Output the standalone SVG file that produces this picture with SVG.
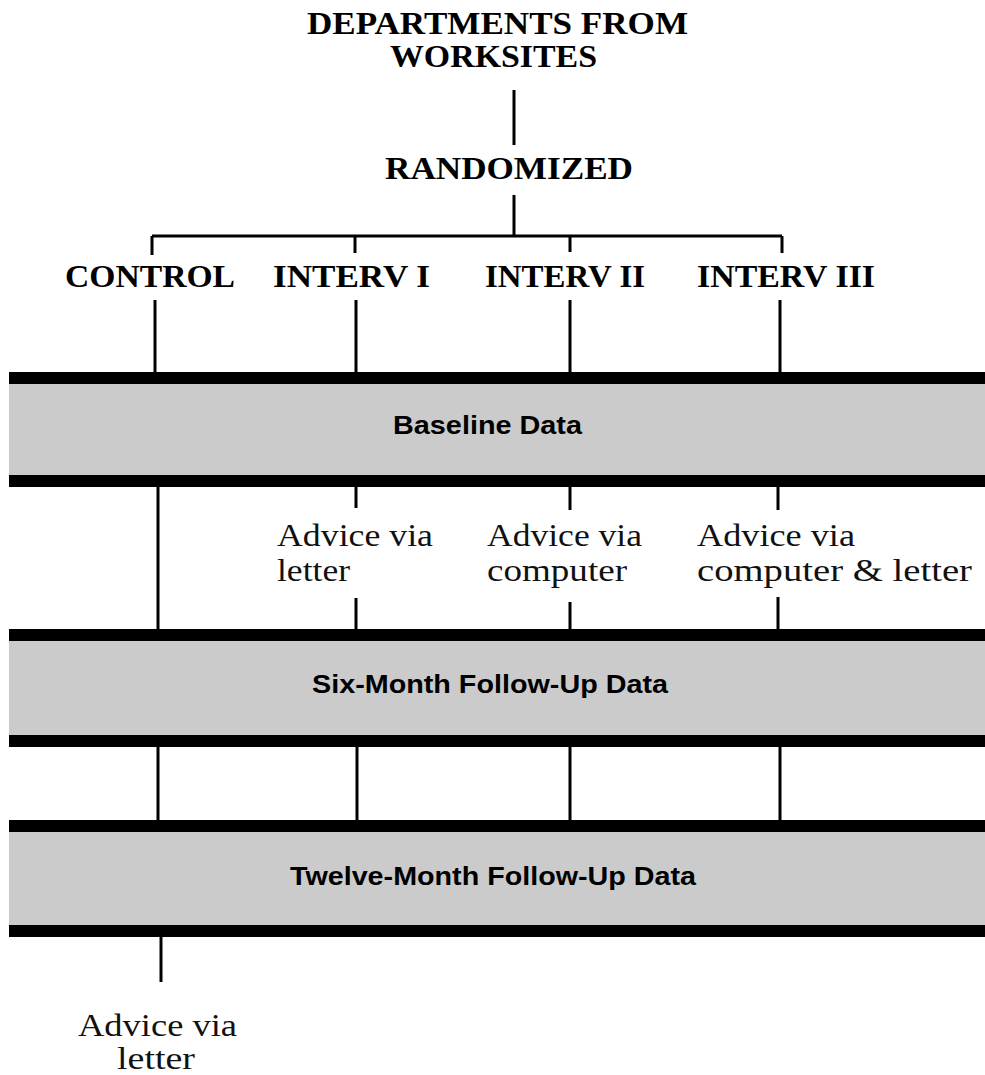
<svg xmlns="http://www.w3.org/2000/svg" width="985" height="1075" viewBox="0 0 985 1075">
<style>
.hd{font-family:"Liberation Serif","Times New Roman",serif;font-weight:bold;font-size:32px;fill:#000}
.bd{font-family:"Liberation Serif","Times New Roman",serif;font-size:32px;fill:#111}
.bl{font-family:"Liberation Sans",Arial,sans-serif;font-weight:bold;font-size:25px;fill:#000}
.bar{fill:#000}
.gray{fill:#cbcbcb}
.ln{stroke:#000;stroke-width:3;fill:none}
</style>
<rect width="985" height="1075" fill="#fff"/>
<g id="connectors">
<path class="ln" d="M514 90V145"/>
<path class="ln" d="M514 195V236"/>
<path class="ln" d="M152 236H782"/>
<path class="ln" d="M152 236V255M355 236V253M570 236V252M782 236V253"/>
<path class="ln" d="M155 300V372M356 300V372M570 300V372M780 300V372"/>
<path class="ln" d="M158 487V629"/>
<path class="ln" d="M356 487V508M570 487V510M778 487V510"/>
<path class="ln" d="M356 598V629M570 602V629M778 597V629"/>
<path class="ln" d="M158 747V820M357 747V820M570 747V820M780 747V820"/>
<path class="ln" d="M161 937V982"/>
</g>
<g id="title"><text class="hd" x="307" y="34" textLength="381" lengthAdjust="spacingAndGlyphs">DEPARTMENTS FROM</text><text class="hd" x="390" y="67" textLength="207" lengthAdjust="spacingAndGlyphs">WORKSITES</text></g>
<g id="randomized"><text class="hd" x="385" y="179" textLength="248" lengthAdjust="spacingAndGlyphs">RANDOMIZED</text></g>
<g id="control"><text class="hd" x="65" y="287" textLength="170" lengthAdjust="spacingAndGlyphs">CONTROL</text></g>
<g id="interv1"><text class="hd" x="273" y="287" textLength="157" lengthAdjust="spacingAndGlyphs">INTERV I</text></g>
<g id="interv2"><text class="hd" x="485" y="287" textLength="160" lengthAdjust="spacingAndGlyphs">INTERV II</text></g>
<g id="interv3"><text class="hd" x="697" y="287" textLength="178" lengthAdjust="spacingAndGlyphs">INTERV III</text></g>
<g id="baseline">
<rect class="gray" x="9" y="384" width="976" height="91"/>
<rect class="bar" x="9" y="372" width="976" height="12"/>
<rect class="bar" x="9" y="475" width="976" height="12"/>
<text class="bl" x="393" y="434" textLength="189" lengthAdjust="spacingAndGlyphs">Baseline Data</text>
</g>
<g id="advice1"><text class="bd" x="277" y="546" textLength="156" lengthAdjust="spacingAndGlyphs">Advice via</text><text class="bd" x="277" y="581" textLength="73" lengthAdjust="spacingAndGlyphs">letter</text></g>
<g id="advice2"><text class="bd" x="487" y="546" textLength="155" lengthAdjust="spacingAndGlyphs">Advice via</text><text class="bd" x="487" y="581" textLength="140" lengthAdjust="spacingAndGlyphs">computer</text></g>
<g id="advice3"><text class="bd" x="697" y="546" textLength="158" lengthAdjust="spacingAndGlyphs">Advice via</text><text class="bd" x="697" y="581" textLength="275" lengthAdjust="spacingAndGlyphs">computer &amp; letter</text></g>
<g id="sixmonth">
<rect class="gray" x="9" y="641" width="976" height="95"/>
<rect class="bar" x="9" y="629" width="976" height="12"/>
<rect class="bar" x="9" y="735" width="976" height="12"/>
<text class="bl" x="312" y="693" textLength="356" lengthAdjust="spacingAndGlyphs">Six-Month Follow-Up Data</text>
</g>
<g id="twelvemonth">
<rect class="gray" x="9" y="832" width="976" height="93"/>
<rect class="bar" x="9" y="820" width="976" height="12"/>
<rect class="bar" x="9" y="925" width="976" height="12"/>
<text class="bl" x="290" y="885" textLength="406" lengthAdjust="spacingAndGlyphs">Twelve-Month Follow-Up Data</text>
</g>
<g id="advice4"><text class="bd" x="78" y="1036" textLength="159" lengthAdjust="spacingAndGlyphs">Advice via</text><text class="bd" x="117" y="1069" textLength="78" lengthAdjust="spacingAndGlyphs">letter</text></g>
</svg>
